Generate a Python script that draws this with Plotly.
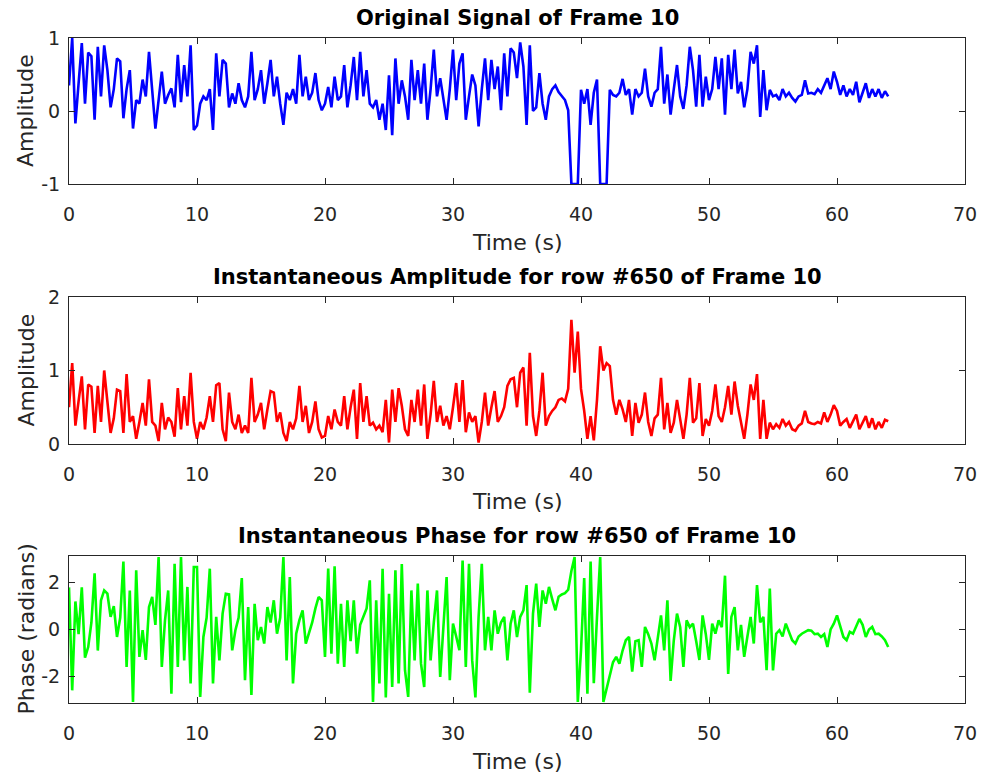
import numpy as np
import plotly.graph_objects as go
from plotly.subplots import make_subplots

# Sample times (s): one reading every 0.25 s from 0 to 64 s
STEP = 0.25
N = 257
time_s = [i * STEP for i in range(N)]

# Panel 1: original signal (20 values per 5 s)
signal = [
    0.35, 1.0, -0.17, 0.45, 0.93, 0.1, 0.8, 0.75, -0.12, 0.88, 0.2, 0.9, 0.56, 0.05, 0.3, 0.72, 0.68, -0.1, 0.3, 0.56,
    -0.24, 0.15, 0.1, 0.43, 0.2, 0.81, 0.25, -0.24, 0.15, 0.54, 0.1, 0.22, 0.31, 0.05, 0.77, 0.12, 0.63, 0.2, 0.9, -0.26,
    -0.2, 0.1, 0.2, 0.15, 0.3, -0.26, 0.79, 0.2, 0.7, 0.65, 0.05, 0.24, 0.1, 0.38, 0.15, 0.05, 0.2, 0.81, 0.15, 0.3,
    0.56, 0.1, 0.38, 0.7, 0.2, 0.47, 0.1, -0.19, 0.25, 0.15, 0.3, 0.1, 0.77, 0.2, 0.47, 0.15, 0.25, 0.52, 0.15, 0.01,
    0.1, 0.33, 0.05, 0.47, 0.15, 0.2, 0.63, 0.05, 0.35, 0.74, 0.15, 0.81, 0.2, 0.56, 0.1, 0.05, 0.15, -0.12, 0.1, -0.26,
    0.49, -0.33, 0.72, 0.1, 0.42, 0.2, -0.12, 0.7, 0.15, 0.56, 0.1, 0.65, -0.12, 0.3, 0.84, 0.2, 0.45, 0.15, -0.12, 0.3,
    0.84, 0.15, 0.65, 0.79, -0.12, 0.2, 0.5, 0.35, -0.21, 0.3, 0.72, 0.15, 0.7, 0.3, 0.61, 0.01, 0.79, 0.2, 0.86, 0.8,
    0.45, 0.94, 0.61, -0.19, 0.9, 0.0, 0.05, 0.52, 0.1, -0.12, 0.2, 0.3, 0.35, 0.26, 0.2, 0.15, 0.01, -1.0, -1.0, -1.0,
    0.29, 0.1, 0.3, -0.19, 0.25, 0.43, -1.0, -1.0, -1.0, 0.29, 0.22, 0.2, 0.25, 0.44, 0.22, 0.3, -0.05, 0.3, 0.2, 0.25,
    0.58, 0.2, 0.06, 0.25, 0.3, 0.88, 0.1, 0.5, -0.05, 0.3, 0.63, 0.2, 0.03, 0.35, 0.88, 0.56, 0.06, 0.77, 0.06, 0.47,
    0.15, 0.3, 0.74, 0.3, 0.72, -0.05, 0.77, 0.3, 0.84, 0.24, 0.4, 0.05, 0.3, 0.81, 0.65, 0.9, -0.08, 0.56, 0.01, 0.29,
    0.2, 0.22, 0.15, 0.3, 0.2, 0.25, 0.18, 0.13, 0.2, 0.22, 0.42, 0.24, 0.25, 0.23, 0.3, 0.25, 0.35, 0.45, 0.3, 0.54,
    0.4, 0.22, 0.35, 0.2, 0.3, 0.22, 0.4, 0.12, 0.25, 0.38, 0.18, 0.3, 0.2, 0.3, 0.18, 0.27, 0.2,
]

# Panel 2: instantaneous amplitude
amplitude = [
    0.5, 1.1, 0.25, 0.6, 0.92, 0.2, 0.81, 0.78, 0.15, 0.79, 0.3, 1.0, 0.6, 0.15, 0.35, 0.74, 0.72, 0.15, 0.95, 0.3,
    0.38, 0.07, 0.3, 0.56, 0.25, 0.88, 0.3, 0.25, 0.04, 0.56, 0.2, 0.36, 0.3, 0.1, 0.76, 0.2, 0.65, 0.25, 0.97, 0.3,
    0.07, 0.3, 0.2, 0.36, 0.65, 0.3, 0.8, 0.83, 0.2, 0.04, 0.7, 0.3, 0.2, 0.4, 0.15, 0.25, 0.15, 0.9, 0.3, 0.4,
    0.56, 0.2, 0.47, 0.72, 0.7, 0.3, 0.43, 0.15, 0.04, 0.3, 0.2, 0.35, 0.79, 0.3, 0.52, 0.15, 0.3, 0.58, 0.2, 0.09,
    0.11, 0.38, 0.2, 0.47, 0.3, 0.25, 0.65, 0.2, 0.5, 0.74, 0.07, 0.83, 0.3, 0.65, 0.25, 0.29, 0.2, 0.25, 0.16, 0.6,
    0.02, 0.74, 0.3, 0.76, 0.52, 0.2, 0.11, 0.6, 0.3, 0.74, 0.25, 0.81, 0.07, 0.4, 0.86, 0.3, 0.52, 0.25, 0.38, 0.2,
    0.5, 0.83, 0.3, 0.87, 0.16, 0.43, 0.3, 0.38, 0.02, 0.3, 0.7, 0.25, 0.5, 0.72, 0.3, 0.38, 0.5, 0.79, 0.88, 0.9,
    0.5, 0.97, 1.04, 0.25, 1.24, 0.38, 0.11, 0.45, 0.97, 0.25, 0.38, 0.45, 0.5, 0.6, 0.62, 0.58, 0.75, 1.69, 0.97, 1.53,
    0.75, 0.45, 0.07, 0.38, 0.05, 0.6, 1.33, 1.0, 1.1, 1.06, 0.6, 0.4, 0.6, 0.47, 0.3, 0.6, 0.11, 0.56, 0.29, 0.4,
    0.7, 0.3, 0.11, 0.35, 0.4, 0.9, 0.2, 0.56, 0.15, 0.29, 0.6, 0.3, 0.07, 0.4, 0.9, 0.29, 0.35, 0.83, 0.11, 0.34,
    0.25, 0.45, 0.81, 0.38, 0.3, 0.5, 0.79, 0.4, 0.85, 0.52, 0.3, 0.07, 0.4, 0.81, 0.6, 0.95, 0.07, 0.6, 0.07, 0.29,
    0.2, 0.27, 0.22, 0.34, 0.25, 0.3, 0.2, 0.18, 0.25, 0.28, 0.45, 0.3, 0.28, 0.27, 0.3, 0.28, 0.43, 0.3, 0.4, 0.53,
    0.45, 0.25, 0.3, 0.34, 0.22, 0.3, 0.4, 0.2, 0.3, 0.38, 0.22, 0.35, 0.2, 0.3, 0.22, 0.33, 0.31,
]

# Panel 3: instantaneous phase (radians)
phase = [
    1.8, -2.6, 1.2, -0.2, 1.8, -1.2, -0.75, 0.3, 2.4, -0.9, 1.25, 1.67, 1.53, 0.54, 1.0, -0.32, 0.5, 2.9, -1.6, 1.67,
    -3.1, 2.53, -1.17, -0.03, -1.3, 0.96, 1.39, 0.2, 3.1, -1.6, 0.39, 1.67, -2.74, 2.81, -1.6, 3.1, -1.32, 1.82, -2.31, 2.67,
    2.67, -2.88, -0.32, 0.5, 2.6, -2.31, 0.54, -1.32, 0.68, 1.53, 1.5, -0.89, -0.03, 0.5, 2.2, -2.17, 0.96, -2.8, 1.1, -0.46,
    0.11, -0.6, 0.96, 0.3, 1.25, -0.18, 0.5, 3.1, -1.32, 2.24, -2.31, -0.18, 0.4, 0.82, -0.6, -0.18, 0.3, 0.9, 1.39, 1.25,
    -1.17, 2.6, -1.03, 2.7, -1.46, 1.1, -1.6, 1.25, -0.5, 1.25, -1.03, 0.2, 0.54, 0.9, 2.1, -3.1, 1.25, -2.31, 2.6, -2.9,
    1.53, -2.46, 2.53, -2.31, 2.8, -1.74, -2.88, 1.67, -1.32, 1.96, -1.46, -2.46, 1.67, -1.32, 0.3, 1.67, -2.03, 0.2, 2.24, -2.17,
    0.25, -0.3, -0.89, 2.95, -1.6, 2.81, -1.32, -2.9, 0.54, 2.81, -0.89, 0.54, -0.89, 0.82, -0.18, 0.3, 0.54, -1.32, 0.25, 0.82,
    -0.32, 0.54, 0.82, 1.9, -2.7, 0.68, 1.96, 0.11, 1.67, 1.1, 1.82, 1.3, 0.82, 1.4, 1.5, 1.55, 1.7, 2.5, 3.1, -3.1,
    -0.89, 2.2, -2.74, 2.9, -2.3, 0.54, 3.1, -3.1, -2.5, -1.9, -1.4, -1.17, -1.46, -0.9, -0.46, -0.32, -1.8, -0.5, -0.46, -1.6,
    0.11, -0.2, -0.6, -1.32, -0.3, 0.6, -0.89, 1.25, -2.2, -0.46, 0.68, 0.1, -1.6, 0.39, 0.1, 0.25, -0.5, -1.3, 0.6, -0.2,
    -1.3, 0.25, -0.18, 0.39, 0.1, 2.3, -1.9, 0.54, 0.96, -0.89, 0.2, -1.17, -0.3, 0.54, -0.6, 1.9, 0.3, 0.54, -1.74, 1.75,
    -1.75, -0.18, -0.03, -0.3, 0.25, -0.1, -0.46, -0.6, -0.3, -0.18, -0.1, -0.03, -0.05, -0.2, -0.18, -0.32, -0.2, -0.75, 0.0, 0.25,
    0.6, 0.1, -0.32, -0.46, -0.1, -0.18, 0.1, 0.45, 0.2, -0.32, 0.0, 0.11, -0.2, -0.18, -0.3, -0.46, -0.75,
]

titles = [
    "Original Signal of Frame 10",
    "Instantaneous Amplitude for row #650 of Frame 10",
    "Instantaneous Phase for row #650 of Frame 10",
]
ylabels = ["Amplitude", "Amplitude", "Phase (radians)"]
xlabel = "Time (s)"
x_ticks = [0, 10, 20, 30, 40, 50, 60, 70]
y_ticks = [[-1, 0, 1], [0, 1, 2], [-2, 0, 2]]
y_ticktext = [["-1", "0", "1"], ["0", "1", "2"], ["-2", "0", "2"]]
y_ranges = [[-1, 1], [0, 2], [-np.pi, np.pi]]
colors = ["#0000FF", "#FF0000", "#00FF00"]
series = [signal, amplitude, phase]

W, H = 981, 776
ML, MR, MT, MB = 69, 16, 38, 73
plot_h = H - MT - MB
panels_px = [(38, 184), (297, 444), (556, 703)]  # top, bottom pixel rows


def py2paper(py):
    return (H - MB - py) / plot_h


def px2paper(px):
    return (px - ML) / (W - ML - MR)


fig = make_subplots(rows=3, cols=1)
FONT = "DejaVu Sans"
AX = "#262626"

for i in range(3):
    r = i + 1
    fig.add_trace(
        go.Scatter(x=time_s, y=series[i], mode="lines",
                   line=dict(color=colors[i], width=2.6), showlegend=False,
                   hoverinfo="skip"),
        row=r, col=1,
    )
    top, bot = panels_px[i]
    fig.update_yaxes(
        domain=[py2paper(bot), py2paper(top)], range=y_ranges[i],
        tickvals=y_ticks[i], ticktext=y_ticktext[i], ticks="inside", ticklen=6, tickcolor=AX,
        showline=True, linecolor=AX, linewidth=1, mirror="ticks",
        showgrid=False, zeroline=False, automargin=False, ticklabelstandoff=4,
        tickfont=dict(family=FONT, size=19, color=AX),
        row=r, col=1,
    )
    fig.update_xaxes(
        range=[0, 70], tickvals=x_ticks, ticks="inside", ticklen=6, tickcolor=AX,
        showline=True, linecolor=AX, linewidth=1, mirror="ticks",
        showgrid=False, zeroline=False, automargin=False, ticklabelstandoff=13,
        tickfont=dict(family=FONT, size=19, color=AX),
        row=r, col=1,
    )
    cx = px2paper((ML + W - MR) / 2)
    fig.add_annotation(text="<b>%s</b>" % titles[i], xref="paper", yref="paper",
                       x=cx, y=py2paper(top - 20), xanchor="center", yanchor="middle",
                       showarrow=False, font=dict(family=FONT, size=21, color="#000000"))
    fig.add_annotation(text=xlabel, xref="paper", yref="paper",
                       x=cx, y=py2paper(bot + 58), xanchor="center", yanchor="middle",
                       showarrow=False, font=dict(family=FONT, size=22, color=AX))
    fig.add_annotation(text=ylabels[i], xref="paper", yref="paper",
                       x=px2paper(26), y=py2paper((top + bot) / 2), xanchor="center",
                       yanchor="middle", textangle=-90,
                       showarrow=False, font=dict(family=FONT, size=22, color=AX))

fig.update_layout(
    width=W, height=H,
    margin=dict(l=ML, r=MR, t=MT, b=MB, autoexpand=False),
    paper_bgcolor="white", plot_bgcolor="white",
    showlegend=False,
)

fig.write_html("out.html", config={"displayModeBar": False},
               post_script="document.body.style.margin='0';document.body.style.overflow='hidden';")
